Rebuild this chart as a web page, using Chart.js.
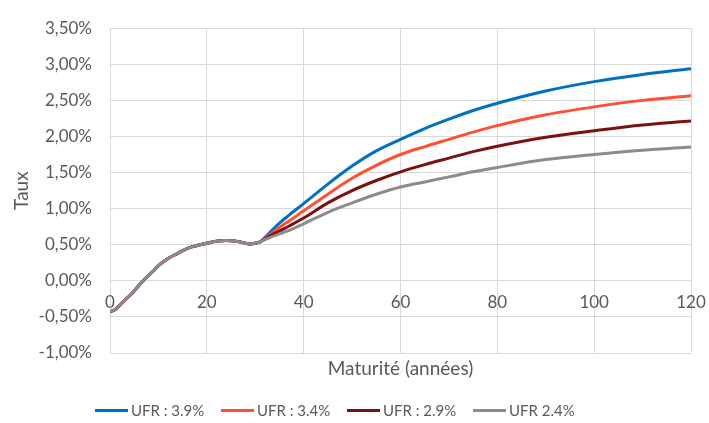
<!DOCTYPE html>
<html lang="fr">
<head>
<meta charset="utf-8">
<title>Courbe des taux - UFR</title>
<script src="https://cdn.jsdelivr.net/npm/chart.js@4.4.1/dist/chart.umd.min.js"></script>
<style>
    html, body { margin: 0; padding: 0; background: #fff; }
    #wrap { position: relative; width: 709px; height: 423px; }
    #curveChart { position: absolute; left: 0; top: 0; }
    #custom-legend {
        position: absolute; left: 95px; top: 399px;
        display: flex; font-family: Lato, sans-serif; font-size: 15px; color: #595959;
    }
    .legend-item { display: flex; align-items: center; width: 126px; height: 22px; }
    .legend-line { width: 33px; height: 3px; margin-right: 3px; }
</style>
</head>
<body>
<div id="wrap">
    <canvas id="curveChart" width="709" height="423"></canvas>
    <div id="custom-legend"></div>
</div>
<script>
// maturités (années) et taux zéro-coupon en %
const maturites = [0, 1, 2, 3, 4, 5, 6, 7, 8, 9, 10, 12, 14, 16, 18, 20, 22, 24, 26, 28, 29, 30, 31,
    33, 35, 37, 40, 45, 50, 55, 60, 65, 70, 75, 80, 90, 100, 110, 120];

// partie commune aux quatre courbes (jusqu'à 31 ans)
const tauxCommun = [-0.43, -0.40, -0.34, -0.27, -0.21, -0.14, -0.06, 0.01, 0.08, 0.14, 0.21, 0.31, 0.38,
    0.45, 0.49, 0.52, 0.55, 0.56, 0.55, 0.52, 0.51, 0.52, 0.54];

const ufr39 = [0.67, 0.80, 0.91, 1.07, 1.34, 1.59, 1.80, 1.96, 2.11, 2.24, 2.36, 2.46, 2.63, 2.76, 2.86, 2.94];
const ufr34 = [0.64, 0.74, 0.83, 0.97, 1.20, 1.42, 1.60, 1.75, 1.86, 1.96, 2.06, 2.15, 2.30, 2.41, 2.50, 2.565];
const ufr29 = [0.62, 0.69, 0.76, 0.87, 1.08, 1.25, 1.39, 1.51, 1.61, 1.70, 1.79, 1.865, 1.99, 2.08, 2.16, 2.215];
const ufr24 = [0.60, 0.65, 0.70, 0.79, 0.95, 1.08, 1.20, 1.30, 1.37, 1.44, 1.51, 1.57, 1.68, 1.75, 1.81, 1.855];

const seriesLabels = ['UFR : 3.9%', 'UFR : 3.4%', 'UFR : 2.9%', 'UFR 2.4%'];
const seriesValues = [ufr39, ufr34, ufr29, ufr24];
const colorPalette = ['#0070C0', '#FF5033', '#7B1111', '#8C8C8C'];

const yTicks = { min: -1, max: 3.5, step: 0.5 };
const xTicks = { min: 0, max: 120, step: 20 };

document.addEventListener('DOMContentLoaded', function () {
    const ctx = document.getElementById('curveChart').getContext('2d');
    const textColor = '#595959';
    const gridColor = '#D9D9D9';

    const datasets = seriesValues.map((tail, index) => {
        const values = tauxCommun.concat(tail);
        return {
            label: seriesLabels[index],
            data: maturites.map((m, i) => ({ x: m, y: values[i] })),
            borderColor: colorPalette[index],
            backgroundColor: colorPalette[index],
            borderWidth: 3,
            pointRadius: 0,
            cubicInterpolationMode: 'monotone',
            // gris dessiné en dernier, au-dessus des autres
            order: seriesValues.length - index
        };
    });

    new Chart(ctx, {
        type: 'line',
        data: { datasets: datasets },
        options: {
            responsive: false,
            animation: false,
            layout: { padding: { left: 0, right: 18, top: 18, bottom: 43 } },
            scales: {
                x: {
                    type: 'linear',
                    min: xTicks.min,
                    max: xTicks.max,
                    position: 'bottom',
                    grid: { color: gridColor, drawTicks: false },
                    border: { display: false },
                    // étiquettes remontées sous la ligne 0 % (mirror évite le découpage)
                    ticks: {
                        stepSize: xTicks.step,
                        color: textColor,
                        font: { family: 'Lato', size: 17 },
                        mirror: true,
                        padding: 40,
                        maxRotation: 0
                    },
                    title: {
                        display: true,
                        text: 'Maturité (années)',
                        color: textColor,
                        font: { family: 'Lato', size: 19 },
                        padding: 0
                    },
                    afterFit: (scale) => {
                        scale.height = 27;
                        scale.paddingLeft = 0;
                        scale.paddingRight = 0;
                    }
                },
                y: {
                    min: yTicks.min,
                    max: yTicks.max,
                    grid: { color: gridColor, drawTicks: false },
                    border: { display: false },
                    ticks: {
                        stepSize: yTicks.step,
                        color: textColor,
                        font: { family: 'Lato', size: 17 },
                        padding: 18,
                        callback: (value) => value.toFixed(2).replace('.', ',') + '%'
                    },
                    title: {
                        display: true,
                        text: 'Taux',
                        color: textColor,
                        font: { family: 'Lato', size: 19 },
                        padding: { top: 10, bottom: 0 }
                    },
                    afterFit: (scale) => { scale.width = 110; }
                }
            },
            plugins: {
                legend: { display: false },
                tooltip: { enabled: false }
            }
        }
    });

    const legendContainer = document.getElementById('custom-legend');
    seriesLabels.forEach((label, index) => {
        const legendItem = document.createElement('div');
        legendItem.className = 'legend-item';
        legendItem.innerHTML = `
            <div class="legend-line" style="background-color: ${colorPalette[index]};"></div>
            <span>${label}</span>
        `;
        legendContainer.appendChild(legendItem);
    });
});
</script>
</body>
</html>
